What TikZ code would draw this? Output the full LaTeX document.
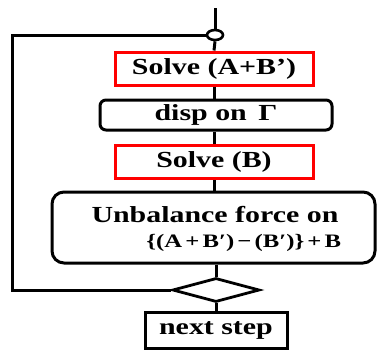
\documentclass[tikz,border=0pt]{standalone}
\usepackage{fontspec}
\setmainfont{Liberation Serif}
\newfontfamily\wfont{Liberation Serif Bold}[FakeStretch=1.3]
\usetikzlibrary{shapes.geometric}
\begin{document}
\begin{tikzpicture}[x=1pt,y=-1pt,
  line width=3pt,
  lbl/.style={font=\wfont\fontsize{23}{25}\selectfont},
  redbox/.style={lbl,draw=red,line width=3pt,minimum width=198pt,minimum height=33pt,inner sep=0pt},
  rbox/.style={lbl,draw=black,line width=3pt,rounded corners=6pt,inner sep=0pt},
  sqbox/.style={lbl,draw=black,line width=3pt,inner sep=0pt},
  conn/.style={draw=black,line width=3pt}]
\useasboundingbox (0,0) rectangle (377,351);
\coordinate (top) at (215,8);
\node[draw=black,ellipse,line width=2.6pt,minimum width=16pt,minimum height=10pt,inner sep=0pt,fill=white] (j) at (215,35) {};
\node[redbox] (s1) at (214,68.5) {Solve (A+B’)};
\node[rbox,minimum width=232pt,minimum height=30pt] (d) at (216,115) {disp on\enspace Γ};
\node[redbox] (s2) at (214,162) {Solve (B)};
\node[rbox,rounded corners=12pt,minimum width=323pt,minimum height=71pt] (u) at (213.5,227.5) {};
\node[lbl] (ut) at (215,215) {Unbalance force on};
\node[font=\wfont\fontsize{19}{21}\selectfont,anchor=east] (uf) at (346,243) {\{(A\,+\,B′)\,−\,(B′)\}\,+\,B};
\node[draw=black,diamond,aspect=3.7,line width=2.8pt,minimum width=87pt,minimum height=24pt,inner sep=0pt] (dm) at (216,290) {};
\node[sqbox,minimum width=142pt,minimum height=36pt] (n) at (216,330) {next step};
\coordinate (lt) at (12,35);
\coordinate (lb) at (12,290);
\draw[conn] (top) -- (j.north);
\draw[conn] (j.south) -- (s1.north);
\draw[conn] (s1.south) -- (d.north -| s1.south);
\draw[conn] (d.south -| s2.north) -- (s2.north);
\draw[conn] (s2.south) -- (u.north -| s2.south);
\draw[conn] (u.south -| dm.north) -- (dm.north);
\draw[conn] (dm.south) -- (n.north);
\draw[conn] (dm.west) -- (lb) -- (lt) -- (j.west);
\end{tikzpicture}
\end{document}
